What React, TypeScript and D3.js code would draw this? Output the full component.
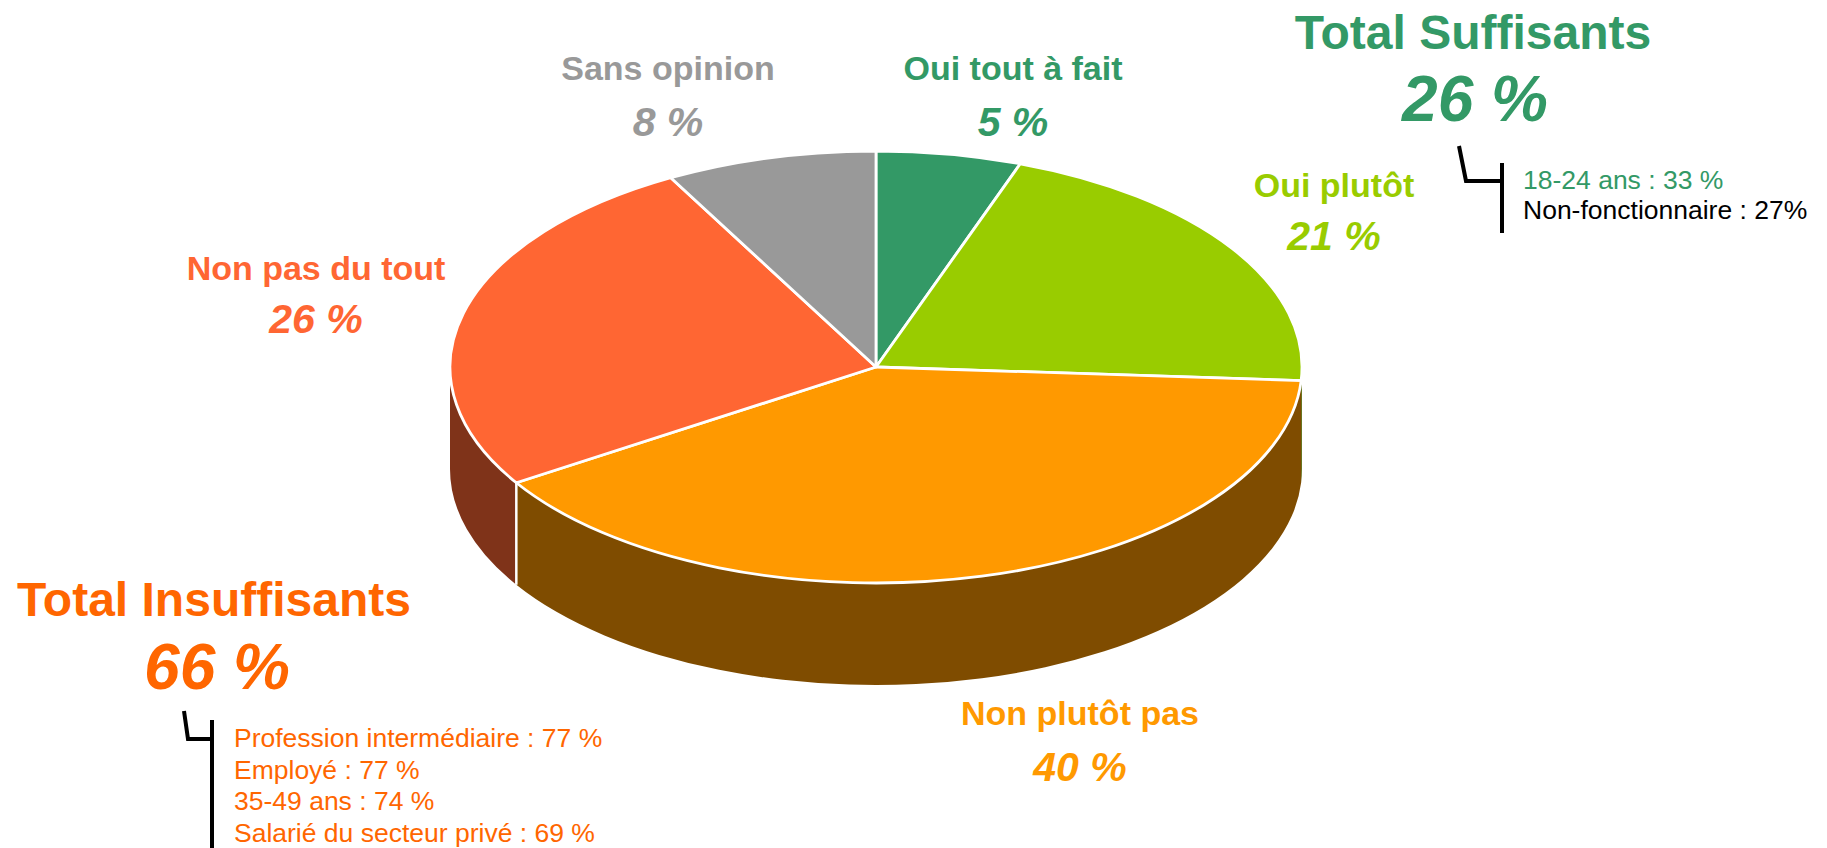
import React from "react";
import * as d3 from "d3";

const categories = ["Oui tout à fait", "Oui plutôt", "Non plutôt pas", "Non pas du tout", "Sans opinion"];
const values = [5.5, 20.5, 40, 26, 8];
// percentages as printed on the chart
const valueLabels = ["5 %", "21 %", "40 %", "26 %", "8 %"];
const totalLabels = ["Total Suffisants", "Total Insuffisants"];
const totalValues = ["26 %", "66 %"];
const suffDetails = ["18-24 ans : 33 %", "Non-fonctionnaire : 27%"];
const insuffDetails = [
  "Profession intermédiaire : 77 %",
  "Employé : 77 %",
  "35-49 ans : 74 %",
  "Salarié du secteur privé : 69 %",
];

const W = 1827;
const H = 848;
const topColors = ["#339966", "#99CC00", "#FF9900", "#FF6633", "#999999"];
const sideColors = ["#1A4C33", "#4C6600", "#7F4C00", "#7F3319", "#4C4C4C"];
const labelPos = [
  { x: 1013, y1: 80, y2: 136 },
  { x: 1334, y1: 197, y2: 250 },
  { x: 1080, y1: 725, y2: 781 },
  { x: 316, y1: 280, y2: 333 },
  { x: 668, y1: 80, y2: 136 },
];

const cx = 876;
const cy = 367;
const rx = 426;
const ry = 216;
const depth = 102;
const FONT = "'Liberation Sans', Arial, sans-serif";

function pt(a: number, dy = 0): [number, number] {
  return [cx + rx * Math.sin(a), cy - ry * Math.cos(a) + dy];
}

export default function App() {
  const arcs = d3.pie<number>().sort(null).startAngle(0).endAngle(2 * Math.PI)(values);

  const topPath = (a0: number, a1: number) => {
    const p0 = pt(a0);
    const p1 = pt(a1);
    const large = a1 - a0 > Math.PI ? 1 : 0;
    return `M${cx},${cy}L${p0[0]},${p0[1]}A${rx},${ry} 0 ${large} 1 ${p1[0]},${p1[1]}Z`;
  };

  const sides: { d: string; color: string; a0: number; a1: number }[] = [];
  arcs.forEach((a, i) => {
    const s = Math.max(a.startAngle, Math.PI / 2);
    const e = Math.min(a.endAngle, (3 * Math.PI) / 2);
    if (e > s) {
      const t0 = pt(s);
      const t1 = pt(e);
      const b0 = pt(s, depth);
      const b1 = pt(e, depth);
      sides.push({
        d: `M${t0[0]},${t0[1]}A${rx},${ry} 0 0 1 ${t1[0]},${t1[1]}L${b1[0]},${b1[1]}A${rx},${ry} 0 0 0 ${b0[0]},${b0[1]}Z`,
        color: sideColors[i],
        a0: s,
        a1: e,
      });
    }
  });

  return (
    <svg
      width={W}
      height={H}
      style={{ position: "absolute", left: 0, top: 0, background: "#fff" }}
      fontFamily={FONT}
    >
      {sides.map((s, i) => (
        <path key={"s" + i} d={s.d} fill={s.color} />
      ))}
      {sides.slice(1).map((s, i) => {
        const t = pt(s.a0);
        const b = pt(s.a0, depth);
        return s.a0 > Math.PI / 2 + 0.1 ? (
          <line key={"sl" + i} x1={t[0]} y1={t[1]} x2={b[0]} y2={b[1]} stroke="#fff" strokeWidth={2.5} />
        ) : null;
      })}
      {arcs.map((a, i) => (
        <path
          key={"t" + i}
          d={topPath(a.startAngle, a.endAngle)}
          fill={topColors[i]}
          stroke="#fff"
          strokeWidth={2.8}
          strokeLinejoin="round"
        />
      ))}
      {arcs.map((a, i) => (
        <g key={"l" + i} fill={topColors[i]} fontWeight="bold" textAnchor="middle">
          <text x={labelPos[i].x} y={labelPos[i].y1} fontSize={34}>
            {categories[i]}
          </text>
          <text x={labelPos[i].x} y={labelPos[i].y2} fontSize={41} fontStyle="italic">
            {valueLabels[i]}
          </text>
        </g>
      ))}

      {/* Total Suffisants */}
      <g fill="#339966" fontWeight="bold" textAnchor="middle">
        <text x={1473} y={49} fontSize={48}>{totalLabels[0]}</text>
        <text x={1475} y={121} fontSize={64} fontStyle="italic">{totalValues[0]}</text>
      </g>
      <path d="M1459,146 L1466,181 L1501,181" fill="none" stroke="#000" strokeWidth={4} />
      <line x1={1502} y1={163} x2={1502} y2={233} stroke="#000" strokeWidth={4} />
      <text x={1523} y={189} fontSize={26.5} fill="#339966">{suffDetails[0]}</text>
      <text x={1523} y={219} fontSize={26.5} fill="#000">{suffDetails[1]}</text>

      {/* Total Insuffisants */}
      <g fill="#FF6600" fontWeight="bold" textAnchor="middle">
        <text x={214} y={616} fontSize={48}>{totalLabels[1]}</text>
        <text x={217} y={689} fontSize={64} fontStyle="italic">{totalValues[1]}</text>
      </g>
      <path d="M184,711 L188,739 L212,739" fill="none" stroke="#000" strokeWidth={4} />
      <line x1={212} y1={720} x2={212} y2={848} stroke="#000" strokeWidth={4} />
      {insuffDetails.map((t, i) => (
        <text key={"d" + i} x={234} y={747 + i * 31.5} fontSize={26.5} fill="#FF6600">
          {t}
        </text>
      ))}
    </svg>
  );
}
